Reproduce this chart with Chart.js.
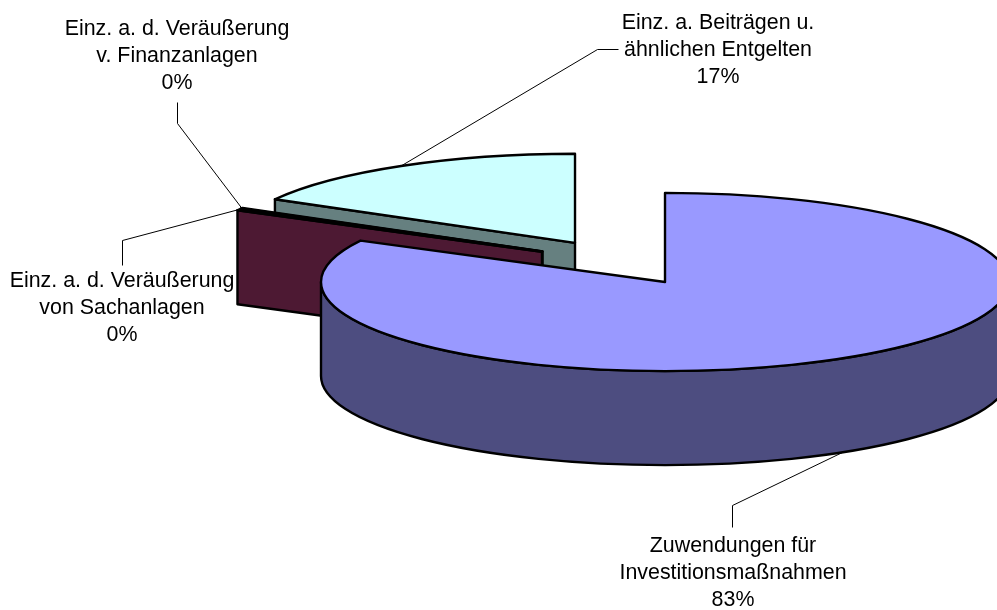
<!DOCTYPE html>
<html>
<head>
<meta charset="utf-8">
<style>html,body{margin:0;padding:0;background:#fff}canvas{display:block}</style>
<script src="https://cdn.jsdelivr.net/npm/chart.js@4"></script>
</head>
<body>
<canvas id="c" width="997" height="610"></canvas>
<script>
const categories = [
  ["Zuwendungen für", "Investitionsmaßnahmen"],
  ["Einz. a. d. Veräußerung", "von Sachanlagen"],
  ["Einz. a. d. Veräußerung", "v. Finanzanlagen"],
  ["Einz. a. Beiträgen u.", "ähnlichen Entgelten"]
];
const values = [82.7, 0.3, 0.13, 16.87];
const topColors = ["#9999FF", "#993366", "#FFFFCC", "#CCFFFF"];
const wallColors = ["#4D4D80", "#4D1933", "#808066", "#668080"];

const EXPLODE = 88, TILT = 0.259, DEPTH = 94;
const labelLayout = [
  {x: 733, y: 552, elbow: [732, 505], end: [732, 527], onWall: true},
  {x: 122, y: 287, elbow: [122, 240], end: [122, 265]},
  {x: 177, y: 35,  elbow: [177, 123], end: [177, 102]},
  {x: 718, y: 29,  elbow: [597, 49],  end: [618, 49]}
];

function geom(arc) {
  const mid = (arc.startAngle + arc.endAngle) / 2;
  return {
    cx: arc.x + Math.cos(mid) * EXPLODE,
    cy: arc.y + Math.sin(mid) * EXPLODE * TILT,
    r: arc.outerRadius, mid
  };
}

const pie3d = {
  id: 'pie3d',
  beforeDatasetDraw(chart, args) {
    const ctx = chart.ctx, arcs = chart.getDatasetMeta(args.index).data;
    for (let i = arcs.length - 1; i >= 0; i--) {
      const arc = arcs[i], g = geom(arc);
      const ry = g.r * TILT;
      ctx.save();
      ctx.lineJoin = 'round';
      ctx.strokeStyle = '#000'; ctx.lineWidth = 2.4; ctx.fillStyle = wallColors[i];
      if (arc.endAngle - arc.startAngle < Math.PI) {
        const px = g.cx + g.r * Math.cos(arc.startAngle), py = g.cy + ry * Math.sin(arc.startAngle);
        ctx.beginPath();
        ctx.moveTo(g.cx, g.cy); ctx.lineTo(px, py);
        ctx.lineTo(px, py + DEPTH); ctx.lineTo(g.cx, g.cy + DEPTH);
        ctx.closePath(); ctx.fill(); ctx.stroke();
      } else {
        ctx.beginPath();
        ctx.ellipse(g.cx, g.cy, g.r, ry, 0, Math.PI, 0, true);
        ctx.ellipse(g.cx, g.cy + DEPTH, g.r, ry, 0, 0, Math.PI, false);
        ctx.closePath(); ctx.fill(); ctx.stroke();
      }
      ctx.save();
      ctx.translate(g.cx, g.cy);
      ctx.scale(1, TILT);
      ctx.translate(-arc.x, -arc.y);
      arc.draw(ctx);
      ctx.beginPath();
      ctx.moveTo(arc.x, arc.y);
      ctx.arc(arc.x, arc.y, g.r, arc.startAngle, arc.endAngle);
      ctx.closePath();
      ctx.restore();
      ctx.stroke();
      ctx.restore();
    }
    return false;
  },
  afterDraw(chart) {
    const ctx = chart.ctx, arcs = chart.getDatasetMeta(0).data;
    const total = values.reduce((a, b) => a + b, 0);
    ctx.save();
    ctx.font = '21.4px "Liberation Sans", Arial, sans-serif';
    ctx.textAlign = 'center';
    ctx.textBaseline = 'alphabetic';
    arcs.forEach((arc, i) => {
      const g = geom(arc), L = labelLayout[i];
      const ax = g.cx + g.r * Math.cos(g.mid);
      const ay = g.cy + g.r * TILT * Math.sin(g.mid) + (L.onWall ? DEPTH : 0);
      ctx.strokeStyle = '#000'; ctx.lineWidth = 1;
      ctx.beginPath();
      ctx.moveTo(ax, ay);
      ctx.lineTo(L.elbow[0] + .5, L.elbow[1] + .5);
      ctx.lineTo(L.end[0] + .5, L.end[1] + .5);
      ctx.stroke();
      ctx.fillStyle = '#000';
      const lines = categories[i].concat(Math.round(values[i] / total * 100) + '%');
      lines.forEach((t, k) => ctx.fillText(t, L.x, L.y + k * 27));
    });
    ctx.restore();
  }
};

new Chart(document.getElementById('c'), {
  type: 'pie',
  data: {
    labels: categories.map(c => c.join(' ')),
    datasets: [{data: values, backgroundColor: topColors, borderWidth: 0, clip: false}]
  },
  options: {
    responsive: false, animation: false,
    radius: 344,
    layout: {padding: {left: 242, right: 0, top: 0, bottom: 85}},
    plugins: {legend: {display: false}, tooltip: {enabled: false}}
  },
  plugins: [pie3d]
});
</script>
</body>
</html>
